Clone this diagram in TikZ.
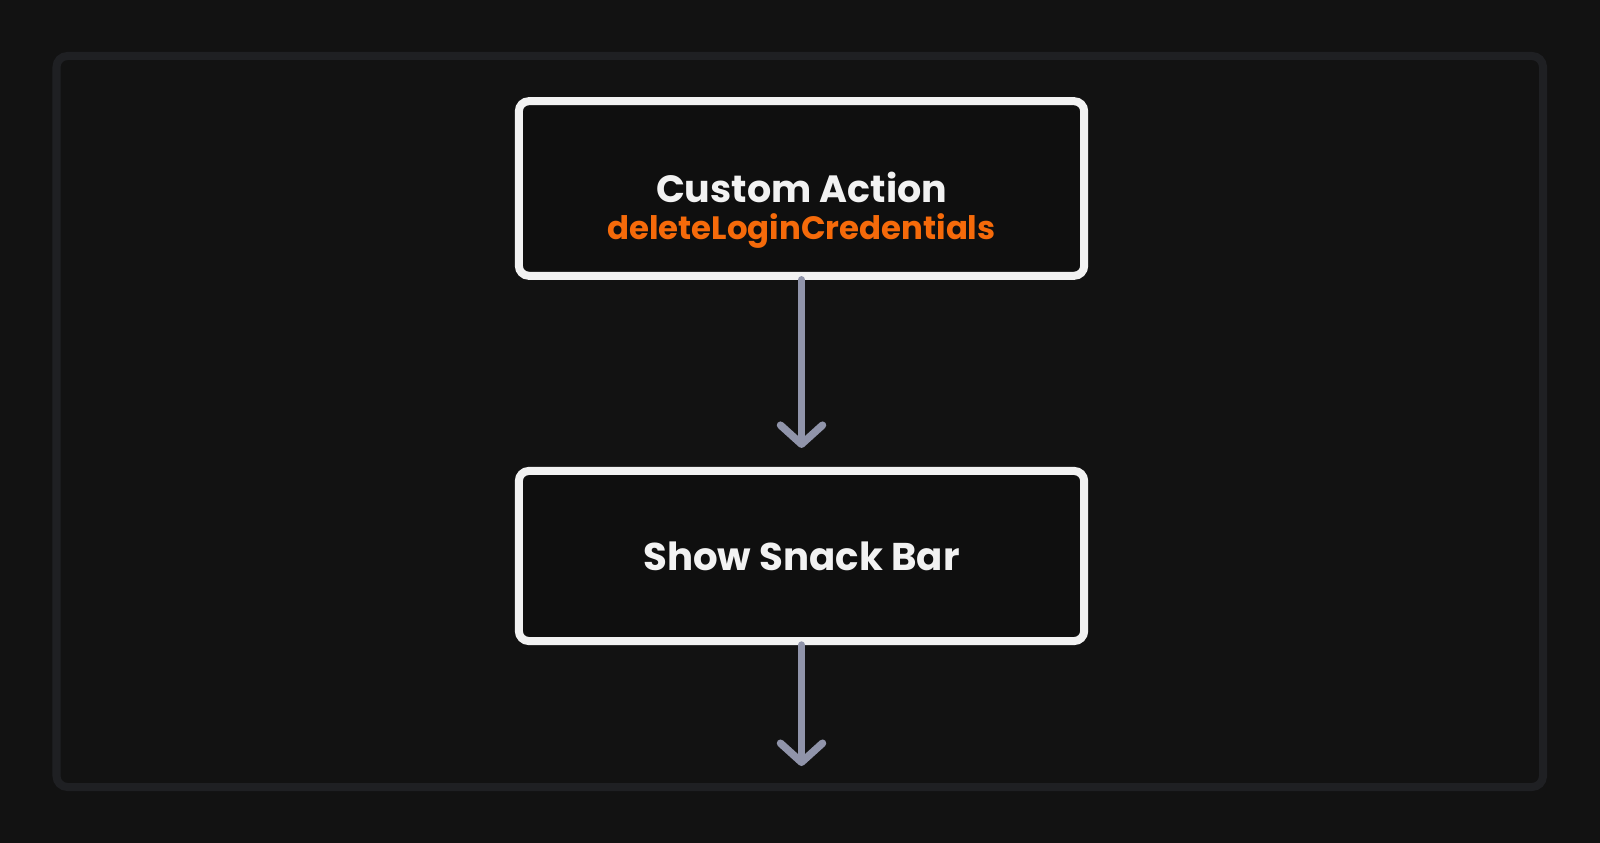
\documentclass[tikz,border=0pt]{standalone}
\usepackage{fontspec}
\setmainfont{Poppins}
\usepackage{tikz}
\usetikzlibrary{arrows.meta}
\definecolor{bgcol}{HTML}{121212}
\definecolor{framecol}{HTML}{1F2023}
\definecolor{boxfill}{HTML}{0F0F0F}
\definecolor{edgecol}{HTML}{F2F2F2}
\definecolor{flowcol}{HTML}{9094AA}
\definecolor{accent}{HTML}{F56A0A}

\begin{document}
\begin{tikzpicture}[x=0.01cm,y=-0.01cm,
		block/.style={draw=edgecol, line width=0.8mm, fill=boxfill, rounded corners=1mm,
			minimum width=5.65cm, inner sep=0pt},
		lbl/.style={text=edgecol, align=center, font=\fontsize{11}{10.5}\selectfont\bfseries},
		flow/.style={draw=flowcol, line width=0.75mm, line cap=round, line join=round,
			-{Straight Barb[length=1.9mm, width=4.2mm, line cap=round, line join=round]}}]
		\fill[bgcol] (0,0) rectangle (1600,843);
		\useasboundingbox (0,0) rectangle (1600,843);
		\draw[framecol, line width=0.8mm, rounded corners=1.1mm] (56.5,56) rectangle (1543,787);
		% boxes
		\node[block, minimum height=1.745cm] (action) at (801.5,188.5) {};
		\node[lbl] (actionlbl) at (801.5,210) {{\fontsize{10.8}{10.5}\selectfont Custom Action}\\{\fontsize{9.2}{10.5}\selectfont\color{accent}deleteLoginCredentials}};
		\node[block, minimum height=1.7cm] (snack) at (801.5,556) {};
		\node[lbl] (snacklbl) at (snack.center) {Show Snack Bar};
		\coordinate (out) at (801.5,766);
		% arrows
		\draw[flow, shorten >=1.9mm] (action.south) -- (snack.north);
		\draw[flow] (snack.south) -- (out);
	\end{tikzpicture}
\end{document}
